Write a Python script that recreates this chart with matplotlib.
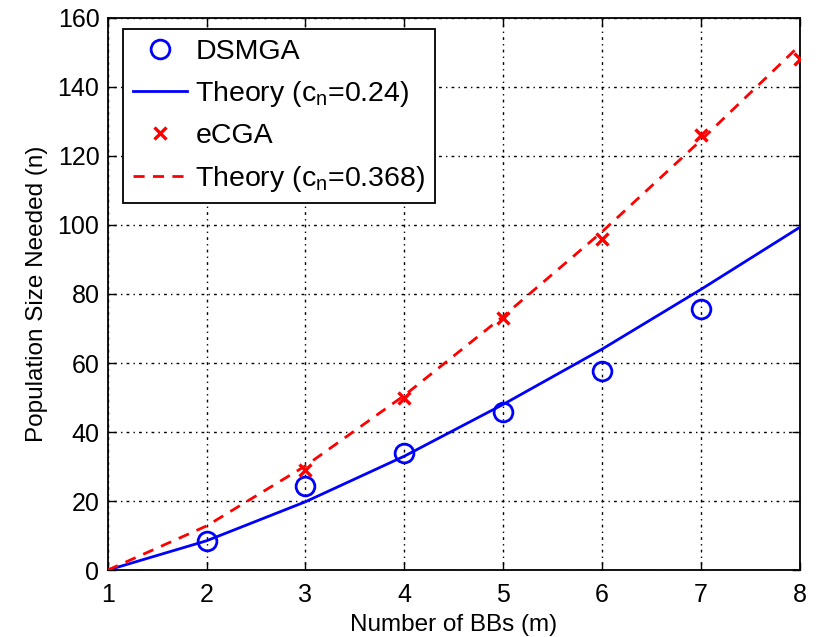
import matplotlib
matplotlib.use("Agg")
import matplotlib.pyplot as plt

plt.rcParams['font.family'] = ['Liberation Sans', 'DejaVu Sans']
plt.rcParams['mathtext.fontset'] = 'custom'
plt.rcParams['mathtext.rm'] = 'Liberation Sans'
plt.rcParams['mathtext.it'] = 'Liberation Sans'

m_theory = [1, 2, 3, 4, 5, 6, 7, 8]
dsmga_theory = [0, 8.5, 19.8, 33.0, 48.0, 64.0, 81.3, 99.3]
ecga_theory = [0, 12.8, 30.2, 50.6, 73.5, 98.0, 124.5, 152.0]

m_dsmga = [2, 3, 4, 5, 6, 7]
dsmga_vals = [8.5, 24.3, 34, 45.8, 57.8, 75.7]
m_ecga = [3, 4, 5, 6, 7, 8]
ecga_vals = [29, 50, 73, 95.8, 126, 148]

xticks = [1, 2, 3, 4, 5, 6, 7, 8]
yticks = [0, 20, 40, 60, 80, 100, 120, 140, 160]

fig = plt.figure(figsize=(8.16, 6.37), dpi=100)
ax = fig.add_axes([0.132, 0.105, 0.848, 0.867])

ax.plot(m_dsmga, dsmga_vals, linestyle='none', marker='o', ms=13.5, mfc='none',
        mec='#0000ff', mew=2.0, label='DSMGA', zorder=4)
ax.plot(m_theory, dsmga_theory, color='#0000ff', lw=2.0,
        label='Theory (c$_{\\mathregular{n}}$=0.24)', zorder=3)
ax.plot(m_ecga, ecga_vals, linestyle='none', marker='x', ms=9, mec='#ff0000',
        mew=2.4, label='eCGA', zorder=4)
ax.plot(m_theory, ecga_theory, color='#ff0000', lw=2.0, linestyle=(0, (4, 3)),
        label='Theory (c$_{\\mathregular{n}}$=0.368)', zorder=3)

ax.set_xlim(1, 8)
ax.set_ylim(0, 160)
ax.set_xticks(xticks)
ax.set_yticks(yticks)
ax.tick_params(axis='x', pad=9)
ax.tick_params(axis='y', pad=6)
ax.tick_params(direction='in', top=True, right=True, labelsize=18, length=6, width=1)
ax.grid(True, color='black', linestyle=(0, (1, 3, 2, 3)), linewidth=1.0)
for s in ax.spines.values():
    s.set_linewidth(1.3)

ax.set_xlabel('Number of BBs (m)', fontsize=17.5, labelpad=5)
ax.set_ylabel('Population Size Needed (n)', fontsize=17.5, labelpad=7)

leg = ax.legend(loc='upper left', bbox_to_anchor=(15 / 692, 1 - 11 / 552),
                fontsize=20.5, frameon=True, fancybox=False,
                edgecolor='black', framealpha=1, borderpad=0.35, labelspacing=0.5,
                handlelength=1.9, handletextpad=0.3, borderaxespad=0)
leg.get_frame().set_linewidth(1.3)

fig.savefig('out.png', dpi=100)
